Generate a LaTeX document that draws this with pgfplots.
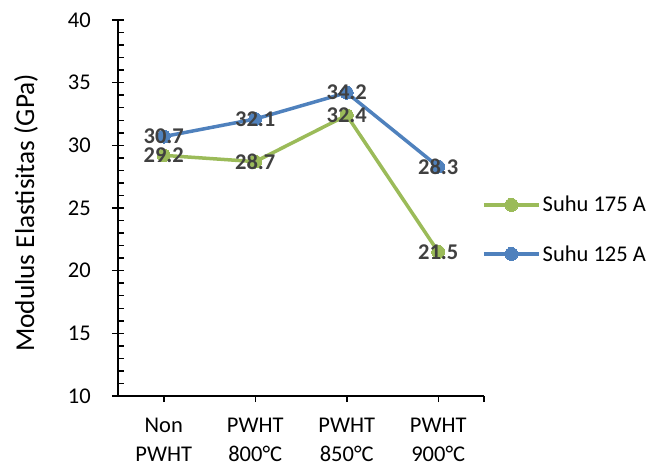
\documentclass[border=0pt]{standalone}
\usepackage{pgfplots}
\pgfplotsset{compat=1.18}
\usepackage{pgfplotstable}
\usepackage{fontspec}
\setmainfont{Carlito}
\definecolor{cgreen}{HTML}{9BBB59}
\definecolor{cblue}{HTML}{4F81BD}
\definecolor{clab}{HTML}{404040}
\newcommand\fs{\fontsize{22.5}{28.5}\selectfont}
\newcommand\ft{\fontsize{27.3}{32}\selectfont}

% Suhu 175 A
\pgfplotstableread{
x y
0 29.2
1 28.7
2 32.4
3 21.5
}\hot
% Suhu 125 A
\pgfplotstableread{
x y
0 30.7
1 32.1
2 34.2
3 28.3
}\cold

\begin{document}
\begin{tikzpicture}
\begin{axis}[
    name=ax,
    scale only axis,
    width=366pt, height=376pt,
    xmin=-0.5, xmax=3.5,
    ymin=10, ymax=40,
    axis x line*=bottom,
    axis y line*=left,
    axis line style={line width=1.5pt, black},
    tick align=outside,
    major tick length=6pt,
    tick style={line width=1.5pt, black},
    xtick={0,1,2,3},
    xticklabels={{Non\\PWHT},{PWHT\\800°C},{PWHT\\850°C},{PWHT\\900°C}},
    xticklabel style={align=center, font=\fs, inner sep=0pt, yshift=-16pt},
    extra x ticks={3.5},
    extra x tick labels={},
    ytick={10,15,...,40},
    yticklabel style={font=\fs, inner sep=0pt, xshift=-21pt},
    extra y ticks={10,11,...,40},
    extra y tick labels={},
    extra y tick style={tick align=inside, major tick length=6pt},
    /pgf/number format/assume math mode=true,
    ylabel={Modulus Elastisitas (GPa)},
    every axis y label/.style={at={(axis description cs:-0.2514,0.487)}, rotate=90, anchor=center, font=\ft},
    legend style={draw=none, fill=none, at={(axis description cs:0.9945,0.537)}, anchor=north west,
        inner sep=0pt, font=\fs, row sep=28pt},
    legend cell align=left,
    legend image code/.code={\draw[#1, mark repeat=2, mark phase=2] plot coordinates {(0pt,0pt) (27.5pt,0pt) (55pt,0pt)};},
    every axis plot/.append style={line width=3.5pt, line join=round},
]
\addplot[cgreen, mark=*, mark size=6.5pt, mark options={solid, fill=cgreen, draw=cgreen, line width=0pt}] table[x=x, y=y] {\hot};
\addplot[cblue, mark=*, mark size=6.5pt, mark options={solid, fill=cblue, draw=cblue, line width=0pt}] table[x=x, y=y] {\cold};
\legend{Suhu 175 A, Suhu 125 A}
\addplot[draw=none, mark=none, point meta=y, nodes near coords={\pgfmathprintnumber[fixed, fixed zerofill, precision=1]{\pgfplotspointmeta}},
    every node near coord/.append style={anchor=center, font=\fs\bfseries, text=clab, inner sep=0pt}] table[x=x, y=y] {\hot};
\addplot[draw=none, mark=none, point meta=y, nodes near coords={\pgfmathprintnumber[fixed, fixed zerofill, precision=1]{\pgfplotspointmeta}},
    every node near coord/.append style={anchor=center, font=\fs\bfseries, text=clab, inner sep=0pt}] table[x=x, y=y] {\cold};
\end{axis}
\pgfresetboundingbox
\path[use as bounding box] ([shift={(-118pt,-69pt)}]ax.south west) rectangle ([shift={(184pt,20pt)}]ax.north east);
\end{tikzpicture}
\end{document}
